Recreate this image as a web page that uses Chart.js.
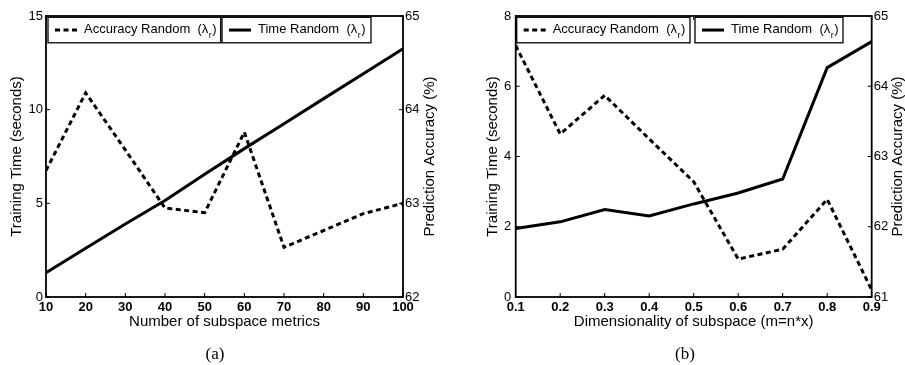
<!DOCTYPE html>
<html><head><meta charset="utf-8">
<script src="https://cdn.jsdelivr.net/npm/chart.js@4.4.0/dist/chart.umd.min.js"></script>
<style>
html,body{margin:0;padding:0;background:#fff;width:905px;height:365px;overflow:hidden;}
.wrap{position:absolute;top:0;height:365px;}
</style></head><body>
<div class="wrap" style="left:0;width:452px"><canvas id="ca"></canvas></div>
<div class="wrap" style="left:452px;width:453px"><canvas id="cb"></canvas></div>
<script>
// ---- data ----
const metricsCounts = [10, 20, 30, 40, 50, 60, 70, 80, 90, 100];
const timeA = [1.3, 2.6, 3.9, 5.15, 6.55, 7.92, 9.25, 10.59, 11.92, 13.25];
const accA = [63.35, 64.18, 63.57, 62.95, 62.90, 63.76, 62.53, 62.71, 62.89, 63.0];

const dims = [0.1, 0.2, 0.3, 0.4, 0.5, 0.6, 0.7, 0.8, 0.9];
const timeB = [1.95, 2.14, 2.49, 2.31, 2.65, 2.96, 3.36, 6.53, 7.27];
const accB = [64.58, 63.32, 63.87, 63.25, 62.64, 61.54, 61.68, 62.39, 61.1];

const timeTicksA = [0, 5, 10, 15];
const accTicksA = [62, 63, 64, 65];
const timeTicksB = [0, 2, 4, 6, 8];
const accTicksB = [61, 62, 63, 64, 65];

const seriesNames = ['Accuracy Random', 'Time Random'];
const legendSymbol = 'λ';
const legendSub = 'r';
const yLeftTitle = 'Training Time (seconds)';
const yRightTitle = 'Prediction Accuracy (%)';
const xTitles = ['Number of subspace metrics', 'Dimensionality of subspace (m=n*x)'];
const captions = ['(a)', '(b)'];

const FONT = "'Liberation Sans', Arial, Helvetica, sans-serif";

function pts(xs, ys) { return xs.map((x, i) => ({ x: x, y: ys[i] })); }

const decorPlugin = {
  id: 'decor',
  afterDatasetsDraw(chart, args, o) {
    const { ctx, chartArea: a, scales } = chart;
    ctx.save();
    // frame
    ctx.strokeStyle = '#000';
    ctx.lineWidth = 1.8;
    ctx.strokeRect(a.left, a.top, a.right - a.left, a.bottom - a.top);
    const L = 4;
    ctx.beginPath();
    scales.x.ticks.forEach(t => {
      const px = scales.x.getPixelForValue(t.value);
      ctx.moveTo(px, a.bottom); ctx.lineTo(px, a.bottom - L);
      ctx.moveTo(px, a.top); ctx.lineTo(px, a.top + L);
    });
    scales.y.ticks.forEach(t => {
      const py = scales.y.getPixelForValue(t.value);
      ctx.moveTo(a.left, py); ctx.lineTo(a.left + L, py);
    });
    scales.y1.ticks.forEach(t => {
      const py = scales.y1.getPixelForValue(t.value);
      ctx.moveTo(a.right, py); ctx.lineTo(a.right - L, py);
    });
    ctx.lineWidth = 1;
    ctx.stroke();

    // legend boxes
    const boxes = o.boxes;
    const ds = chart.data.datasets;
    boxes.forEach((b, i) => {
      const d = ds[i];
      const bx = a.left + b.dx, by = a.top + 1.3, bw = b.w, bh = 25.5;
      ctx.fillStyle = '#fff';
      ctx.fillRect(bx, by, bw, bh);
      ctx.lineWidth = 1.3;
      ctx.strokeStyle = '#000';
      ctx.strokeRect(bx, by, bw, bh);
      const cy = by + bh / 2;
      ctx.beginPath();
      ctx.lineWidth = 3;
      ctx.lineCap = 'butt';
      ctx.setLineDash(d.borderDash || []);
      ctx.moveTo(bx + 7, cy); ctx.lineTo(bx + 29, cy);
      ctx.stroke();
      ctx.setLineDash([]);
      ctx.fillStyle = '#000';
      ctx.textBaseline = 'middle';
      ctx.textAlign = 'left';
      ctx.font = '13px ' + FONT;
      let tx = bx + 36;
      const main = d.label + '  (' + legendSymbol;
      ctx.fillText(main, tx, cy - 0.5);
      tx += ctx.measureText(main).width;
      ctx.font = '9px ' + FONT;
      ctx.fillText(legendSub, tx + 0.5, cy + 5);
      tx += ctx.measureText(legendSub).width + 1;
      ctx.font = '13px ' + FONT;
      ctx.fillText(')', tx, cy - 0.5);
    });

    // right axis title (reads bottom to top)
    ctx.save();
    ctx.font = '15px ' + FONT;
    ctx.fillStyle = '#000';
    ctx.textAlign = 'center';
    ctx.textBaseline = 'middle';
    ctx.translate(o.rightTitleX, (a.top + a.bottom) / 2);
    ctx.rotate(-Math.PI / 2);
    ctx.fillText(yRightTitle, 0, 0);
    ctx.restore();

    // caption
    ctx.font = '17px "Liberation Serif", "Times New Roman", serif';
    ctx.fillStyle = '#000';
    ctx.textAlign = 'center';
    ctx.textBaseline = 'middle';
    ctx.fillText(o.caption, o.captionX, 355);
    ctx.restore();
  }
};

function makeChart(id, xs, tSeries, aSeries, xTitle, tTicks, aTicks, cfg) {
  const tickFont = { family: FONT, size: 13 };
  return new Chart(document.getElementById(id), {
    type: 'line',
    data: {
      datasets: [
        { label: seriesNames[0], data: pts(xs, aSeries), yAxisID: 'y1', borderColor: '#000',
          borderWidth: 3, borderDash: [5, 3.5], borderCapStyle: 'butt', pointRadius: 0, tension: 0, fill: false },
        { label: seriesNames[1], data: pts(xs, tSeries), yAxisID: 'y', borderColor: '#000',
          borderWidth: 3, pointRadius: 0, tension: 0, fill: false }
      ]
    },
    options: {
      responsive: true, maintainAspectRatio: false, animation: false,
      devicePixelRatio: 1,
      layout: { padding: { top: 16, left: 0, right: 0, bottom: 0 } },
      plugins: {
        legend: { display: false }, tooltip: { enabled: false },
        decor: { boxes: cfg.boxes, rightTitleX: cfg.rightTitleX, caption: cfg.caption, captionX: cfg.captionX }
      },
      scales: {
        x: {
          type: 'linear', position: 'bottom', min: xs[0], max: xs[xs.length - 1],
          afterBuildTicks: s => { s.ticks = xs.map(v => ({ value: v })); },
          afterFit: s => { s.height = 68; },
          grid: { display: false, drawTicks: false }, border: { display: false },
          ticks: { color: '#000', font: { family: FONT, size: 13, weight: 'bold' }, padding: 3, maxRotation: 0, autoSkip: false,
            callback: v => cfg.fmt(v) },
          title: { display: true, text: xTitle, color: '#000', font: { family: FONT, size: 15 },
            padding: { top: 0, bottom: 34 } }
        },
        y: {
          type: 'linear', position: 'left', min: tTicks[0], max: tTicks[tTicks.length - 1],
          afterBuildTicks: s => { s.ticks = tTicks.map(v => ({ value: v })); },
          afterFit: s => { s.width = cfg.leftW; },
          grid: { display: false, drawTicks: false }, border: { display: false },
          ticks: { color: '#000', font: tickFont, padding: cfg.leftPad },
          title: { display: true, text: yLeftTitle, color: '#000', font: { family: FONT, size: 15 },
            padding: { top: cfg.leftTitlePad, bottom: 0 } }
        },
        y1: {
          type: 'linear', position: 'right', min: aTicks[0], max: aTicks[aTicks.length - 1],
          afterBuildTicks: s => { s.ticks = aTicks.map(v => ({ value: v })); },
          afterFit: s => { s.width = cfg.rightW; },
          grid: { display: false, drawTicks: false }, border: { display: false },
          ticks: { color: '#000', font: tickFont, padding: 2 }
        }
      }
    },
    plugins: [decorPlugin]
  });
}

makeChart('ca', metricsCounts, timeA, accA, xTitles[0], timeTicksA, accTicksA, {
  leftW: 46, rightW: 49, leftPad: 3, leftTitlePad: 8, rightTitleX: 430,
  caption: captions[0], captionX: 215,
  fmt: v => String(v),
  boxes: [{ dx: 2, w: 172.7 }, { dx: 176, w: 149 }]
});
makeChart('cb', dims, timeB, accB, xTitles[1], timeTicksB, accTicksB, {
  leftW: 63.7, rightW: 33.3, leftPad: 4.5, leftTitlePad: 32.3, rightTitleX: 446.3,
  caption: captions[1], captionX: 233,
  fmt: v => v.toFixed(1),
  boxes: [{ dx: 1, w: 173.3 }, { dx: 179.3, w: 148 }]
});
</script>
</body></html>
